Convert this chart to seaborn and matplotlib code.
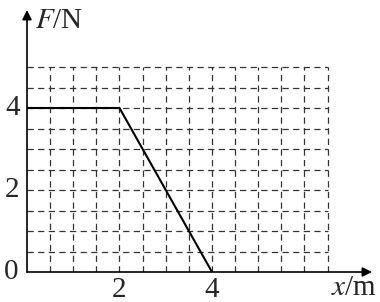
import numpy as np
import pandas as pd
import matplotlib
matplotlib.use("Agg")
import matplotlib.pyplot as plt
import seaborn as sns

# data
x_vals = [0, 2, 4]
f_vals = [4, 4, 0]
x_ticks = [2, 4]
y_ticks = [2, 4]

sns.set_theme(style="white")
plt.rcParams['font.family'] = ['Liberation Serif', 'DejaVu Serif']
plt.rcParams['mathtext.fontset'] = 'stix'

fig = plt.figure(figsize=(3.8, 3.02), dpi=100)
ax = fig.add_axes([27/380, 30/302, 345/380, 262/302])
ax.set_xlim(0, 345/46.25)
ax.set_ylim(0, 262/41.0)
for s in ax.spines.values():
    s.set_visible(False)
ax.set_xticks([]); ax.set_yticks([])
ax.patch.set_alpha(0)

# grid
gx = np.arange(0.5, 6.51, 0.5)
gy = np.arange(0.5, 5.01, 0.5)
ax.vlines(gx, 0, 5.0, colors='#333333', linestyles=(0, (5, 3.5)), linewidth=0.9)
ax.hlines(gy, 0, 6.5, colors='#333333', linestyles=(0, (5, 3.5)), linewidth=0.9)

df = pd.DataFrame({"x": x_vals, "F": f_vals})
sns.lineplot(data=df, x="x", y="F", ax=ax, color='black', linewidth=1.5, sort=False)

# axes arrows
ax.annotate('', xy=(345/46.25, 0), xytext=(0, 0),
            arrowprops=dict(arrowstyle='-|>', color='black', lw=1.2, mutation_scale=14, shrinkA=0, shrinkB=0))
ax.annotate('', xy=(0, 262/41.0), xytext=(0, 0),
            arrowprops=dict(arrowstyle='-|>', color='black', lw=1.2, mutation_scale=14, shrinkA=0, shrinkB=0))

ax.set_xlabel(''); ax.set_ylabel('')

fs = 21
for t in x_ticks:
    ax.text(t, -0.43, str(t), ha='center', va='center', fontsize=fs, clip_on=False)
for t in y_ticks:
    ax.text(-0.32, t, str(t), ha='center', va='center', fontsize=fs, clip_on=False)
ax.text(-0.34, 0, '0', ha='center', va='center', fontsize=fs, clip_on=False)

ax.text(0.17, 6.12, r'$F$/N', ha='left', va='center', fontsize=fs, clip_on=False)
ax.text(6.58, -0.4, r'$x$/m', ha='left', va='center', fontsize=fs, clip_on=False)

fig.savefig('out.png', dpi=100)
